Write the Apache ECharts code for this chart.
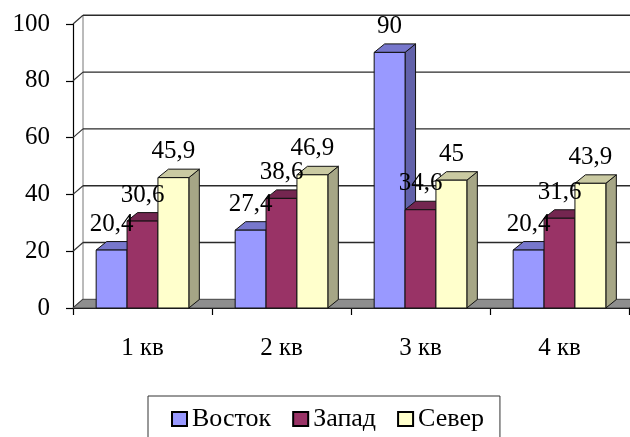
<!DOCTYPE html>
<html>
<head>
<meta charset="utf-8">
<script src="https://cdn.jsdelivr.net/npm/echarts@6/dist/echarts.min.js"></script>
<style>
html,body{margin:0;padding:0;background:#fff;}
#chart{width:630px;height:437px;}
</style>
</head>
<body>
<div id="chart"></div>
<script>
// ---- data ----
var categories = ['1 кв', '2 кв', '3 кв', '4 кв'];
var seriesNames = ['Восток', 'Запад', 'Север'];
var vostok = [20.4, 27.4, 90, 20.4];
var zapad = [30.6, 38.6, 34.6, 31.6];
var sever = [45.9, 46.9, 45, 43.9];
var yTicks = [0, 20, 40, 60, 80, 100];

// ---- style ----
var FONT = 'Liberation Serif';
var BAR_DX = 10.5, BAR_DY = -8.5;
var WALL_DX = 10, WALL_DY = -8.7;
var palettes = [
  {front: '#9999FF', top: '#7777CC', side: '#6262AA'},
  {front: '#993366', top: '#742650', side: '#6B2447'},
  {front: '#FFFFCC', top: '#CACAA2', side: '#A6A686'}
];

function fmt(v) { return String(v).replace('.', ','); }

function barRender(idx) {
  var pal = palettes[idx];
  return function (params, api) {
    var ci = api.value(0), v = api.value(1);
    var base = api.coord([ci, 0]);
    var top = api.coord([ci, v]);
    var cw = api.size([1, 0])[0];
    var b = cw / 4.5;
    var x0 = base[0] - 1.5 * b + idx * b, x1 = x0 + b;
    var yb = base[1], yt = top[1];
    var dx = BAR_DX, dy = BAR_DY;
    var ls = {stroke: '#111', lineWidth: 1, lineJoin: 'round'};
    return {
      type: 'group',
      children: [
        {type: 'polygon', shape: {points: [[x1, yt], [x1 + dx, yt + dy], [x1 + dx, yb + dy], [x1, yb]]},
          style: Object.assign({fill: pal.side}, ls)},
        {type: 'polygon', shape: {points: [[x0, yt], [x0 + dx, yt + dy], [x1 + dx, yt + dy], [x1, yt]]},
          style: Object.assign({fill: pal.top}, ls)},
        {type: 'rect', shape: {x: x0, y: yt, width: b, height: yb - yt},
          style: Object.assign({fill: pal.front}, ls)},
        {type: 'text', z2: 100,
          style: {text: fmt(v), x: (x0 + x1) / 2, y: yt - 26, align: 'center', verticalAlign: 'middle',
            fill: '#000', fontSize: 25, fontFamily: FONT}}
      ]
    };
  };
}

function wallRender(params, api) {
  var cs = params.coordSys;
  var xl = cs.x, xr = cs.x + cs.width;
  var dx = WALL_DX, dy = WALL_DY;
  var children = [];
  var y0 = api.coord([0, yTicks[0]])[1];
  var yTop = api.coord([0, yTicks[yTicks.length - 1]])[1];
  children.push({type: 'line', shape: {x1: xl + dx, y1: yTop + dy, x2: xl + dx, y2: y0 + dy},
    style: {stroke: '#777', lineWidth: 1}});
  yTicks.forEach(function (t) {
    var y = api.coord([0, t])[1];
    if (t !== 0) {
      children.push({type: 'line', shape: {x1: xl + dx, y1: y + dy, x2: xr + dx + 20, y2: y + dy},
        style: {stroke: '#2a2a2a', lineWidth: 1.4}});
    }
    children.push({type: 'line', shape: {x1: xl, y1: y, x2: xl + dx, y2: y + dy},
      style: {stroke: '#333', lineWidth: 1.2}});
  });
  children.push({type: 'polygon', shape: {points: [[xl, y0], [xl + dx, y0 + dy], [xr + dx, y0 + dy], [xr, y0]]},
    style: {fill: '#8E8E8E', stroke: '#444', lineWidth: 1}});
  return {type: 'group', children: children};
}

function toData(arr) { return arr.map(function (v, i) { return [i, v]; }); }

var chart = echarts.init(document.getElementById('chart'));
chart.setOption({
  animation: false,
  backgroundColor: '#fff',
  textStyle: {fontFamily: FONT},
  grid: {left: 73, right: 1, top: 24, bottom: 129, containLabel: false},
  xAxis: {
    type: 'category', data: categories, boundaryGap: true,
    axisLine: {show: true, lineStyle: {color: '#000', width: 1.2}},
    axisTick: {show: true, length: 7, lineStyle: {color: '#000', width: 1.2}},
    axisLabel: {margin: 28, color: '#000', fontSize: 25, fontFamily: FONT},
    splitLine: {show: false}
  },
  yAxis: {
    type: 'value', min: 0, max: 100, interval: 20,
    axisLine: {show: true, lineStyle: {color: '#000', width: 1.2}},
    axisTick: {show: true, length: 7, lineStyle: {color: '#000', width: 1.2}},
    axisLabel: {margin: 23, color: '#000', fontSize: 25, fontFamily: FONT},
    splitLine: {show: false}
  },
  legend: {
    left: 148, top: 396, orient: 'horizontal',
    itemWidth: 15, itemHeight: 14, itemGap: 21,
    padding: [10, 16, 30, 23],
    borderColor: '#333', borderWidth: 1,
    textStyle: {color: '#000', fontSize: 26, fontFamily: FONT},
    data: seriesNames.map(function (n, i) {
      return {name: n, icon: 'rect', itemStyle: {color: palettes[i].front, borderColor: '#000', borderWidth: 2}};
    })
  },
  series: [
    {type: 'custom', name: 'walls', silent: true, renderItem: wallRender, data: [[0, 0]], z: 1},
    {type: 'custom', name: seriesNames[0], renderItem: barRender(0), data: toData(vostok), itemStyle: {color: palettes[0].front}},
    {type: 'custom', name: seriesNames[1], renderItem: barRender(1), data: toData(zapad), itemStyle: {color: palettes[1].front}},
    {type: 'custom', name: seriesNames[2], renderItem: barRender(2), data: toData(sever), itemStyle: {color: palettes[2].front}}
  ]
});
</script>
</body>
</html>
